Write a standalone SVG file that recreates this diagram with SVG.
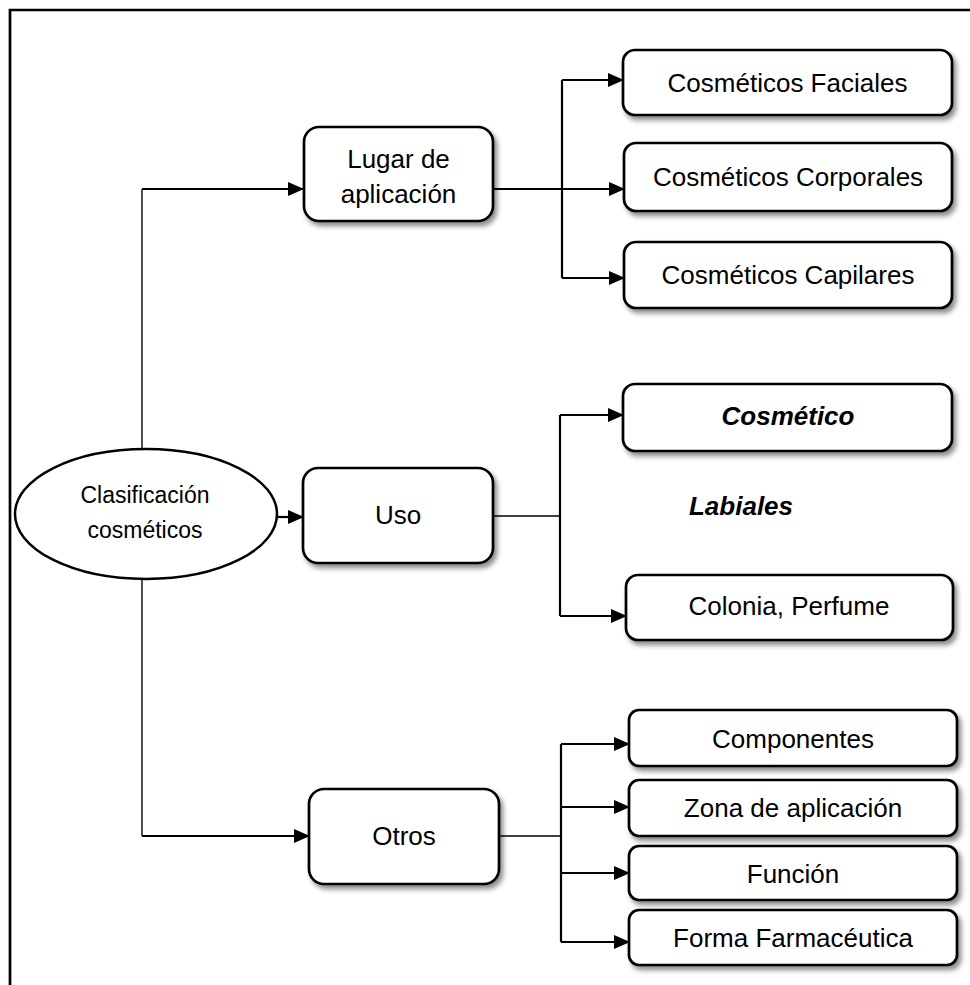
<svg xmlns="http://www.w3.org/2000/svg" width="970" height="985" viewBox="0 0 970 985">
<defs>
<marker id="arr" viewBox="0 0 16 14" refX="15" refY="7" markerWidth="16" markerHeight="14" markerUnits="userSpaceOnUse" orient="auto">
<path d="M0,0 L16,7 L0,14 z" fill="#000"/>
</marker>
<filter id="sh" x="-10%" y="-10%" width="125%" height="140%">
<feDropShadow dx="3" dy="4" stdDeviation="2.5" flood-color="#000" flood-opacity="0.45"/>
</filter>
</defs>
<style>
.box{fill:#fff;stroke:#000;stroke-width:2.7;filter:url(#sh)}
.t{font-family:"Liberation Sans",Arial,sans-serif;font-size:26px;text-anchor:middle;fill:#000}
.bi{font-weight:bold;font-style:italic}
.c{fill:none;stroke:#000;stroke-width:2.2}
.thin{fill:none;stroke:#000;stroke-width:1.4}
</style>
<rect width="970" height="985" fill="#fff"/>
<g id="frame">
<path d="M10,985 L10,10 L970,10" fill="none" stroke="#000" stroke-width="2.7"/>
</g>
<g id="connectors">
<path class="thin" d="M142,449 L142,189"/>
<path class="c" d="M142,189 L303,189" marker-end="url(#arr)"/>
<path class="thin" d="M142,579 L142,836"/>
<path class="c" d="M142,836 L309,836" marker-end="url(#arr)"/>
<path class="c" d="M277,517 L303,517" marker-end="url(#arr)"/>
<path class="c" d="M493,189 L624,189" marker-end="url(#arr)"/>
<path class="c" d="M562,80 L562,278"/>
<path class="c" d="M562,80 L623,80" marker-end="url(#arr)"/>
<path class="c" d="M562,278 L624,278" marker-end="url(#arr)"/>
<path class="thin" d="M493,516 L560,516"/>
<path class="c" d="M560,415 L560,616"/>
<path class="c" d="M560,415 L623,415" marker-end="url(#arr)"/>
<path class="c" d="M560,616 L626,616" marker-end="url(#arr)"/>
<path class="thin" d="M499,836 L561,836"/>
<path class="c" d="M561,744 L561,942"/>
<path class="c" d="M561,744 L629,744" marker-end="url(#arr)"/>
<path class="c" d="M561,807 L629,807" marker-end="url(#arr)"/>
<path class="c" d="M561,873 L629,873" marker-end="url(#arr)"/>
<path class="c" d="M561,942 L629,942" marker-end="url(#arr)"/>
</g>
<g id="clasificacion">
<ellipse cx="146" cy="514" rx="131" ry="65" fill="#fff" stroke="#000" stroke-width="2.5"/>
<text class="t" x="145" y="503" style="font-size:23px">Clasificación</text>
<text class="t" x="145" y="538" style="font-size:23px">cosméticos</text>
</g>
<g id="lugar">
<rect class="box" x="304" y="127" width="189" height="94" rx="15"/>
<text class="t" x="398.5" y="168">Lugar de</text>
<text class="t" x="398.5" y="203">aplicación</text>
</g>
<g id="uso">
<rect class="box" x="303" y="468" width="190" height="95" rx="15"/>
<text class="t" x="398" y="524">Uso</text>
</g>
<g id="otros">
<rect class="box" x="309" y="789" width="190" height="95" rx="15"/>
<text class="t" x="404" y="845">Otros</text>
</g>
<g id="faciales">
<rect class="box" x="623" y="50" width="329" height="65" rx="12"/>
<text class="t" x="787.5" y="92">Cosméticos Faciales</text>
</g>
<g id="corporales">
<rect class="box" x="624" y="143" width="328" height="68" rx="12"/>
<text class="t" x="788" y="186">Cosméticos Corporales</text>
</g>
<g id="capilares">
<rect class="box" x="624" y="242" width="328" height="66" rx="12"/>
<text class="t" x="788" y="284">Cosméticos Capilares</text>
</g>
<g id="cosmetico">
<rect class="box" x="623" y="384" width="329" height="67" rx="12"/>
<text class="t bi" x="788" y="425">Cosmético</text>
</g>
<g id="labiales">
<text class="t bi" x="741" y="515">Labiales</text>
</g>
<g id="colonia">
<rect class="box" x="626" y="575" width="327" height="65" rx="12"/>
<text class="t" x="789" y="615">Colonia, Perfume</text>
</g>
<g id="componentes">
<rect class="box" x="629" y="710" width="328" height="56" rx="10"/>
<text class="t" x="793" y="748">Componentes</text>
</g>
<g id="zona">
<rect class="box" x="629" y="780" width="328" height="56" rx="10"/>
<text class="t" x="793" y="817">Zona de aplicación</text>
</g>
<g id="funcion">
<rect class="box" x="629" y="846" width="328" height="54" rx="10"/>
<text class="t" x="793" y="883">Función</text>
</g>
<g id="forma">
<rect class="box" x="629" y="910" width="328" height="55" rx="10"/>
<text class="t" x="793" y="947">Forma Farmacéutica</text>
</g>
</svg>
